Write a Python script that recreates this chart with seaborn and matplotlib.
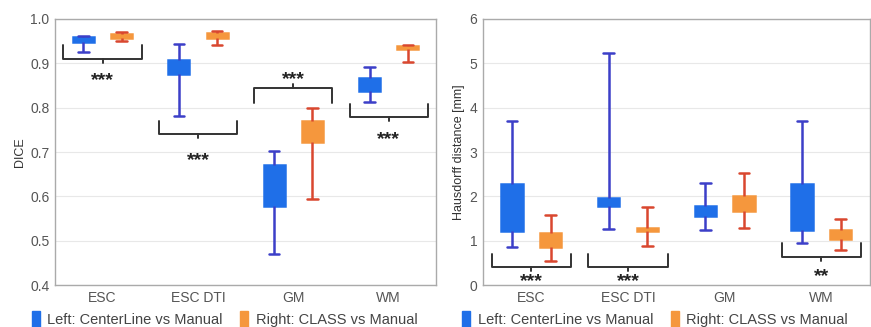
import seaborn as sns
import matplotlib.pyplot as plt
import pandas as pd
from matplotlib.patches import Patch

categories = ["ESC", "ESC DTI", "GM", "WM"]
groups = ["Left: CenterLine vs Manual", "Right: CLASS vs Manual"]

# five-number summaries: low whisker, q1, median, q3, high whisker
dice_centerline = [
    [0.925, 0.949, 0.955, 0.959, 0.962],
    [0.782, 0.876, 0.890, 0.907, 0.943],
    [0.470, 0.578, 0.625, 0.671, 0.703],
    [0.812, 0.838, 0.855, 0.868, 0.892],
]
dice_class = [
    [0.950, 0.957, 0.962, 0.965, 0.970],
    [0.941, 0.958, 0.963, 0.968, 0.974],
    [0.594, 0.723, 0.745, 0.771, 0.800],
    [0.902, 0.933, 0.937, 0.940, 0.941],
]
hd_centerline = [
    [0.86, 1.22, 1.65, 2.27, 3.71],
    [1.26, 1.78, 1.85, 1.97, 5.24],
    [1.24, 1.56, 1.68, 1.79, 2.31],
    [0.95, 1.24, 1.65, 2.27, 3.71],
]
hd_class = [
    [0.54, 0.85, 1.00, 1.17, 1.58],
    [0.88, 1.22, 1.25, 1.28, 1.77],
    [1.29, 1.68, 1.82, 2.01, 2.53],
    [0.79, 1.04, 1.14, 1.24, 1.48],
]
dice_sig = ["***", "***", "***", "***"]
hd_sig = ["***", "***", "", "**"]

BLUE = "#1f6fe8"
BLUE_LINE = "#3c3fc8"
ORANGE = "#f5973d"
RED_LINE = "#d9472f"
GRAY = "#555555"

sns.set_theme(style="whitegrid")
plt.rcParams["font.family"] = ["Liberation Sans", "DejaVu Sans"]


def to_long(left, right):
    rows = []
    for cat, a, b in zip(categories, left, right):
        rows += [(cat, groups[0], v) for v in a]
        rows += [(cat, groups[1], v) for v in b]
    return pd.DataFrame(rows, columns=["region", "method", "value"])


def draw_boxes(ax, df):
    for grp, fill, line in [(groups[0], BLUE, BLUE_LINE), (groups[1], ORANGE, RED_LINE)]:
        sns.boxplot(data=df[df.method == grp], x="region", y="value", hue="method",
                    order=categories, hue_order=groups, dodge=True, gap=0.45,
                    whis=(0, 100), palette={groups[0]: BLUE, groups[1]: ORANGE},
                    linecolor=line, linewidth=1.8, saturation=1,
                    medianprops=dict(color=fill, linewidth=1.0),
                    legend=False, ax=ax)
    for p in ax.patches:
        p.set_edgecolor(p.get_facecolor())


def bracket(ax, x, y, leg, tick, label, text_y):
    x0, x1 = x - 0.41, x + 0.41
    ax.plot([x0, x0, x1, x1], [y + leg, y, y, y + leg], color="#333333", lw=1.4)
    ax.plot([x, x], [y, y - tick], color="#333333", lw=1.4)
    ax.text(x, text_y, label, ha="center", va="center", fontsize=14,
            fontweight="bold", color="#222222")


def style(ax, ylabel, ylim, yticks):
    ax.set_xlim(-0.5, 3.5)
    ax.set_ylim(*ylim)
    ax.set_yticks(yticks)
    ax.set_xlabel("")
    ax.set_ylabel(ylabel, fontsize=9, color="#333333", labelpad=3)
    ax.tick_params(length=0, labelsize=10, colors=GRAY, pad=4)
    ax.grid(axis="x", visible=False)
    ax.grid(axis="y", color="#e8e8e8", lw=0.8)
    for s in ax.spines.values():
        s.set_color("#aaaaaa")
        s.set_linewidth(1.0)
    handles = [Patch(facecolor=BLUE, edgecolor=BLUE), Patch(facecolor=ORANGE, edgecolor=ORANGE)]
    ax.legend(handles, groups, loc="upper center", bbox_to_anchor=(0.445, -0.075), ncol=2,
              frameon=False, fontsize=10.5, handlelength=0.55, handleheight=1.3,
              handletextpad=0.5, columnspacing=1.2, borderaxespad=0, labelcolor="#444444")


fig = plt.figure(figsize=(8.71, 3.27), dpi=100)
ax1 = fig.add_axes([0.063, 0.128, 0.438, 0.814])
ax2 = fig.add_axes([0.5545, 0.128, 0.444, 0.814])

draw_boxes(ax1, to_long(dice_centerline, dice_class))
style(ax1, "DICE", (0.4, 1.0), [0.4, 0.5, 0.6, 0.7, 0.8, 0.9, 1.0])
ax1.set_yticklabels(["0.4", "0.5", "0.6", "0.7", "0.8", "0.9", "1.0"])
bracket(ax1, 0, 0.910, 0.031, 0.009, dice_sig[0], 0.860)
bracket(ax1, 1, 0.740, 0.031, 0.009, dice_sig[1], 0.681)
bracket(ax1, 2, 0.845, -0.034, -0.009, dice_sig[2], 0.864)
bracket(ax1, 3, 0.778, 0.030, 0.009, dice_sig[3], 0.727)

draw_boxes(ax2, to_long(hd_centerline, hd_class))
style(ax2, "Hausdorff distance [mm]", (0, 6), [0, 1, 2, 3, 4, 5, 6])
bracket(ax2, 0, 0.41, 0.30, 0.09, hd_sig[0], 0.08)
bracket(ax2, 1, 0.41, 0.30, 0.09, hd_sig[1], 0.08)
bracket(ax2, 3, 0.64, 0.30, 0.09, hd_sig[3], 0.20)

fig.savefig("out.png", dpi=100)
